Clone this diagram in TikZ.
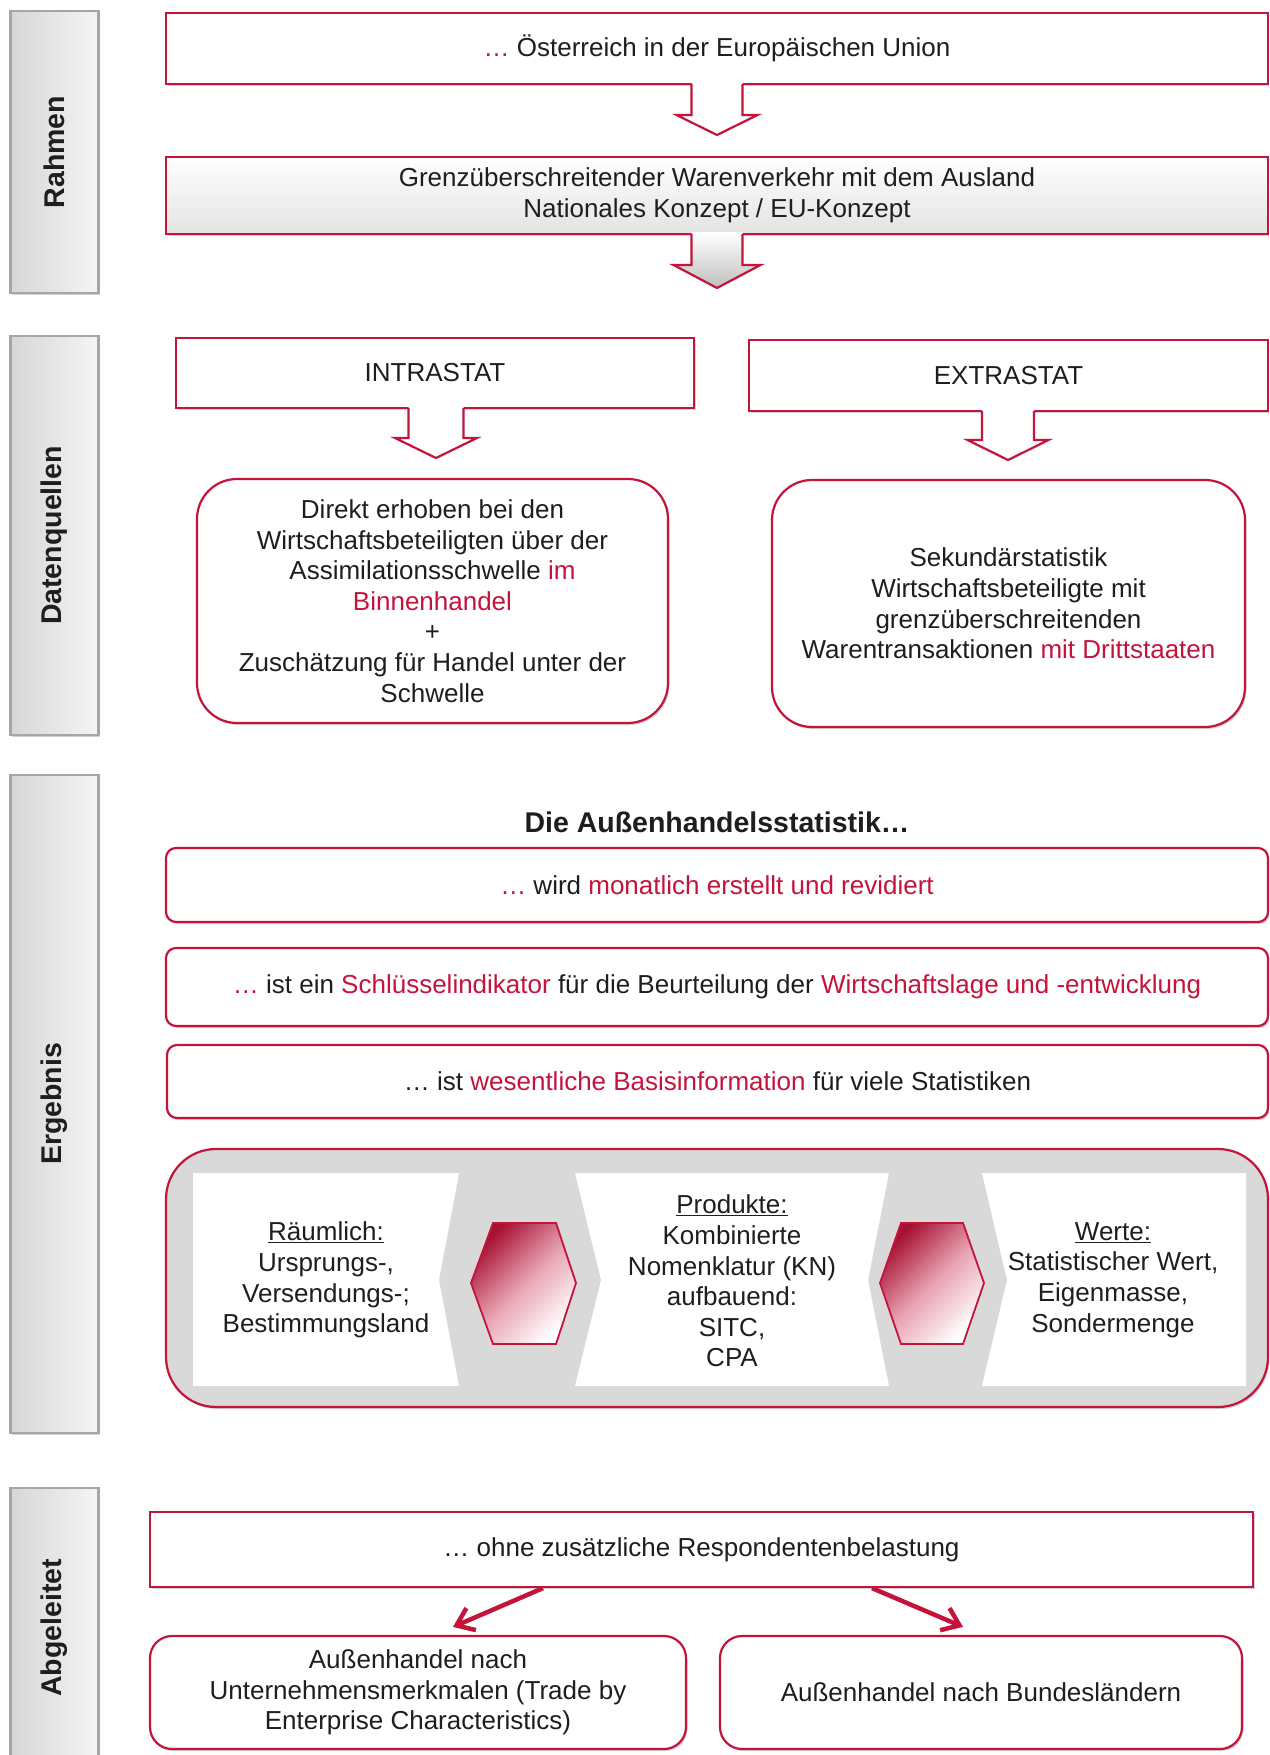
\documentclass[tikz,border=0pt]{standalone}
\usepackage{fontspec}
\setmainfont{Liberation Sans}
\usetikzlibrary{shadows,arrows.meta}
\definecolor{crim}{HTML}{C4143C}
\definecolor{ink}{HTML}{1E1E1E}
\newcommand\rd[1]{\textcolor{crim}{#1}}
\newcommand\mytxt{\fontsize{26}{30.6}\selectfont}
\newcommand\mybold{\fontsize{28.5}{32}\selectfont\bfseries}
\newcommand\blockarr[7]{%
  \path[#7] (#1-#5,#2-2) -- (#1-#5,#3) -- (#1-#6,#3) -- (#1,#4) -- (#1+#6,#3) -- (#1+#5,#3) -- (#1+#5,#2-2) -- cycle;
  \draw[crim,line width=2.2pt,line join=miter] (#1-#5,#2) -- (#1-#5,#3) -- (#1-#6,#3) -- (#1,#4) -- (#1+#6,#3) -- (#1+#5,#3) -- (#1+#5,#2);}
\tikzset{
  shd/.style={drop shadow={shadow xshift=1.5pt,shadow yshift=-2pt,opacity=0.25,fill=black!70}},
  sharpbox/.style={draw=crim,line width=2.2pt,fill=white,shd,inner sep=0pt,align=center,font=\mytxt,text=ink},
  roundbox/.style={sharpbox,rounded corners=#1},
  seclabel/.style={draw=gray!70,line width=2.5pt,left color=gray!32,right color=gray!8,inner sep=0pt,shd},
  sectext/.style={rotate=90,font=\mybold,text=ink,inner sep=0pt},
  plain/.style={font=\mytxt,text=ink,align=center,inner sep=0pt},
  panel/.style={fill=white},
  hexa/.style={draw=crim,line width=1.8pt,top color=crim!85!black,bottom color=white,middle color=crim!40!white,shading angle=45},
  redarr/.style={draw=crim,line width=4.5pt,-{Straight Barb[length=16pt,width=24pt]}},
}
\begin{document}
\begin{tikzpicture}[x=1pt,y=-1pt]
\clip (0,0) rectangle (1269,1755);
\fill[white] (0,0) rectangle (1269,1755);

% section labels
\node[seclabel,minimum width=88,minimum height=282] (s1) at (54.5,152) {};
\node[sectext] (t1) at (s1) {Rahmen};
\node[seclabel,minimum width=88,minimum height=399] (s2) at (54.5,535.5) {};
\node[sectext] (t2) at (s2) {Datenquellen};
\node[seclabel,minimum width=88,minimum height=658] (s3) at (54.5,1104) {};
\node[sectext] (t3) at (s3) {Ergebnis};
\node[seclabel,minimum width=88,minimum height=280] (s4) at (54.5,1628) {};
\node[sectext] (t4) at (s4) {Abgeleitet};

% Rahmen
\node[sharpbox,minimum width=1102,minimum height=71] (b1) at (717,48.5) {\rd{…} Österreich in der Europäischen Union};
\node[sharpbox,minimum width=1102,minimum height=77,top color=white,bottom color=gray!22] (b2) at (717,195.5) {Grenzüberschreitender Warenverkehr mit dem Ausland\\Nationales Konzept / EU-Konzept};
\blockarr{717}{84}{115}{135}{25.5}{40.5}{fill=white}
\blockarr{717}{234}{265}{288}{25.5}{43.5}{top color=white,bottom color=gray!50}

% Datenquellen
\node[sharpbox,minimum width=518,minimum height=70] (intra) at (435,373) {INTRASTAT};
\node[sharpbox,minimum width=519,minimum height=71] (extra) at (1008.5,375.5) {EXTRASTAT};
\blockarr{436}{408}{438}{458}{27.5}{41}{fill=white}
\blockarr{1008}{411}{440}{460}{26}{40.5}{fill=white}
\node[roundbox=40pt,minimum width=471,minimum height=244] (intrab) at (432.5,601) {Direkt erhoben bei den\\Wirtschaftsbeteiligten über der\\Assimilationsschwelle \rd{im}\\\rd{Binnenhandel}\\+\\Zuschätzung für Handel unter der\\Schwelle};
\node[roundbox=40pt,minimum width=473,minimum height=247] (extrab) at (1008.5,603.5) {Sekundärstatistik\\Wirtschaftsbeteiligte mit\\grenzüberschreitenden\\Warentransaktionen \rd{mit Drittstaaten}};

% Ergebnis
\node[font=\mybold,text=ink,inner sep=0pt] (head) at (717,822) {Die Außenhandelsstatistik…};
\node[roundbox=10pt,minimum width=1102,minimum height=74] (e1) at (717,885) {\rd{…} wird \rd{monatlich erstellt und revidiert}};
\node[roundbox=10pt,minimum width=1102,minimum height=78] (e2) at (717,987) {\rd{…} ist ein \rd{Schlüsselindikator} für die Beurteilung der \rd{Wirtschaftslage und -entwicklung}};
\node[roundbox=10pt,minimum width=1101,minimum height=73] (e3) at (717.5,1081.5) {… ist \rd{wesentliche Basisinformation} für viele Statistiken};
\node[roundbox=50pt,minimum width=1102,minimum height=258,fill=gray!30] (big) at (717,1278) {};
\path[panel] (193,1173) -- (459,1173) -- (439,1280) -- (459,1386) -- (193,1386) -- cycle;
\path[panel] (575,1173) -- (889,1173) -- (868,1280) -- (889,1386) -- (575,1386) -- (601,1280) -- cycle;
\path[panel] (982,1173) -- (1246,1173) -- (1246,1386) -- (982,1386) -- (1007,1280) -- cycle;
\path[hexa] (471,1283) -- (493,1223) -- (556,1223) -- (576,1283) -- (556,1344) -- (493,1344) -- cycle;
\path[hexa] (880,1283) -- (901,1223) -- (963,1223) -- (984,1283) -- (963,1344) -- (901,1344) -- cycle;
\node[plain] (p1) at (326,1280) {\underline{Räumlich:}\\Ursprungs-,\\Versendungs-;\\Bestimmungsland};
\node[plain] (p2) at (732,1281) {\underline{Produkte:}\\Kombinierte\\Nomenklatur (KN)\\aufbauend:\\SITC,\\CPA};
\node[plain] (p3) at (1113,1280) {\underline{Werte:}\\Statistischer Wert,\\Eigenmasse,\\Sondermenge};

% Abgeleitet
\node[sharpbox,minimum width=1103,minimum height=75] (a1) at (701.5,1549.5) {… ohne zusätzliche Respondentenbelastung};
\node[roundbox=22pt,minimum width=536,minimum height=113] (l1) at (418,1692.5) {Außenhandel nach\\Unternehmensmerkmalen (Trade by\\Enterprise Characteristics)};
\node[roundbox=22pt,minimum width=522,minimum height=113] (r1) at (981,1692.5) {Außenhandel nach Bundesländern};
\draw[redarr] ([xshift=-158.5pt]a1.south) -- ([xshift=35pt,yshift=8pt]l1.north);
\draw[redarr] ([xshift=170.5pt]a1.south) -- ([xshift=-18pt,yshift=8pt]r1.north);
\end{tikzpicture}
\end{document}
